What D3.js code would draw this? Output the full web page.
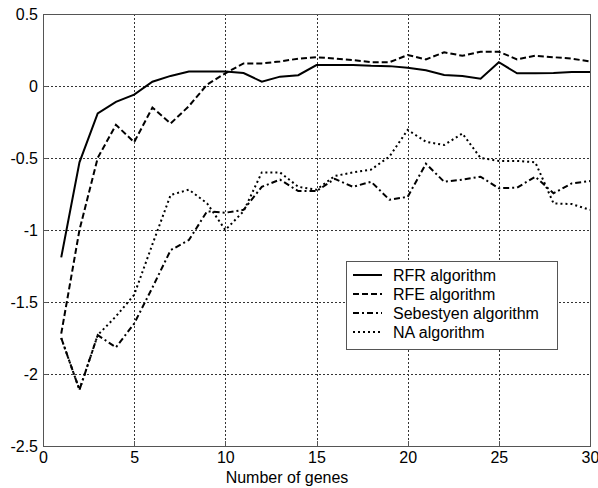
<!DOCTYPE html>
<html lang="en">
<head>
<meta charset="UTF-8">
<title>genes</title>
<style>
    body { margin: 0; background: #fff; }
    svg text { font-family: Arial, "Liberation Sans", Helvetica, sans-serif; font-size: 16px; fill: #000; }
    .grid line { stroke: #333; stroke-width: 1; stroke-dasharray: 2,2; shape-rendering: crispEdges; }
    .axis path, .axis line { fill: none; stroke: #555; shape-rendering: crispEdges; }
</style>
</head>
<body>
<script src="https://cdn.jsdelivr.net/npm/d3@7"></script>
<script>
    var width = 598, height = 488;
    var margin = {left: 43, right: 8, top: 14, bottom: 42};

    var genes = d3.range(1, 31);
    var rfr = [-1.19, -0.53, -0.19, -0.11, -0.06, 0.03, 0.07, 0.1, 0.1, 0.1,
               0.09, 0.03, 0.065, 0.075, 0.145, 0.145, 0.145, 0.14, 0.138, 0.127,
               0.11, 0.076, 0.07, 0.05, 0.165, 0.088, 0.088, 0.09, 0.097, 0.097];
    var rfe = [-1.72, -1.0, -0.5, -0.27, -0.39, -0.15, -0.26, -0.14, 0.01, 0.088,
               0.157, 0.157, 0.17, 0.19, 0.2, 0.19, 0.18, 0.165, 0.165, 0.215,
               0.185, 0.234, 0.21, 0.238, 0.238, 0.185, 0.21, 0.2, 0.19, 0.17];
    var seb = [-1.75, -2.11, -1.73, -1.815, -1.65, -1.4, -1.14, -1.07, -0.87, -0.88,
               -0.86, -0.7, -0.65, -0.73, -0.73, -0.645, -0.7, -0.665, -0.79, -0.77,
               -0.54, -0.665, -0.65, -0.63, -0.71, -0.706, -0.63, -0.745, -0.676, -0.66];
    var na = [-1.75, -2.11, -1.73, -1.6, -1.45, -1.1, -0.757, -0.72, -0.815, -1.0,
              -0.87, -0.6, -0.6, -0.7, -0.72, -0.625, -0.6, -0.58, -0.49, -0.305,
              -0.387, -0.41, -0.33, -0.5, -0.52, -0.52, -0.53, -0.815, -0.82, -0.86];
    var names = ["RFR algorithm", "RFE algorithm", "Sebestyen algorithm", "NA algorithm"];
    var dashes = ["none", "6,3", "6,3,2,3", "2,3"];
    var xTicks = [0, 5, 10, 15, 20, 25, 30];
    var yTicks = [0.5, 0, -0.5, -1, -1.5, -2, -2.5];

    var series = [rfr, rfe, seb, na];

    var x = d3.scaleLinear().domain([0, 30]).range([margin.left, width - margin.right]);
    var y = d3.scaleLinear().domain([-2.5, 0.5]).range([height - margin.bottom, margin.top]);

    var svg = d3.select("body").append("svg")
        .attr("width", width)
        .attr("height", height);

    // grid
    var grid = svg.append("g").attr("class", "grid");
    grid.selectAll(".gx").data(xTicks.slice(1, -1)).enter().append("line")
        .attr("x1", function(d){ return Math.round(x(d)) + 0.5; })
        .attr("x2", function(d){ return Math.round(x(d)) + 0.5; })
        .attr("y1", y(0.5)).attr("y2", y(-2.5));
    grid.selectAll(".gy").data(yTicks.slice(1, -1)).enter().append("line")
        .attr("y1", function(d){ return Math.round(y(d)) + 0.5; })
        .attr("y2", function(d){ return Math.round(y(d)) + 0.5; })
        .attr("x1", x(0)).attr("x2", x(30));

    // box
    svg.append("rect")
        .attr("x", x(0)).attr("y", y(0.5))
        .attr("width", x(30) - x(0)).attr("height", y(-2.5) - y(0.5))
        .attr("fill", "none").attr("stroke", "#555")
        .attr("shape-rendering", "crispEdges");

    // axes, ticks point inward
    var xAxis = d3.axisBottom(x).tickValues(xTicks).tickSizeInner(-5).tickSizeOuter(0).tickPadding(6);
    svg.append("g").attr("class", "axis")
        .attr("transform", "translate(0," + y(-2.5) + ")")
        .call(xAxis)
        .call(function(g){ g.select(".domain").remove(); });

    var yAxis = d3.axisLeft(y).tickValues(yTicks).tickSizeInner(-5).tickSizeOuter(0).tickPadding(5)
        .tickFormat(function(d){ return String(d); });
    svg.append("g").attr("class", "axis")
        .attr("transform", "translate(" + x(0) + ",0)")
        .call(yAxis)
        .call(function(g){ g.select(".domain").remove(); });

    svg.selectAll(".axis text").style("font-size", "16px").attr("fill", "#000")
        .style("font-family", "Arial, 'Liberation Sans', Helvetica, sans-serif");

    svg.append("text")
        .attr("x", 287).attr("y", 483)
        .attr("text-anchor", "middle")
        .text("Number of genes");

    // lines
    var line = d3.line()
        .x(function(d, i){ return x(genes[i]); })
        .y(function(d){ return y(d); });

    svg.selectAll(".series").data(series).enter().append("path")
        .attr("class", "series")
        .attr("d", line)
        .attr("fill", "none")
        .attr("stroke", "#000")
        .attr("stroke-width", 2)
        .attr("stroke-dasharray", function(d, i){ return dashes[i]; });

    // legend
    var lg = svg.append("g").attr("transform", "translate(346,261)");
    lg.append("rect")
        .attr("width", 211).attr("height", 88)
        .attr("fill", "#fff").attr("stroke", "#555")
        .attr("shape-rendering", "crispEdges");
    var row = lg.selectAll(".row").data(names).enter().append("g")
        .attr("transform", function(d, i){ return "translate(0," + (14 + i * 19) + ")"; });
    row.append("line")
        .attr("x1", 7).attr("x2", 36)
        .attr("stroke", "#000").attr("stroke-width", 2)
        .attr("stroke-dasharray", function(d, i){ return dashes[i]; });
    row.append("text")
        .attr("x", 47).attr("y", 6)
        .text(function(d){ return d; });
</script>
</body>
</html>
